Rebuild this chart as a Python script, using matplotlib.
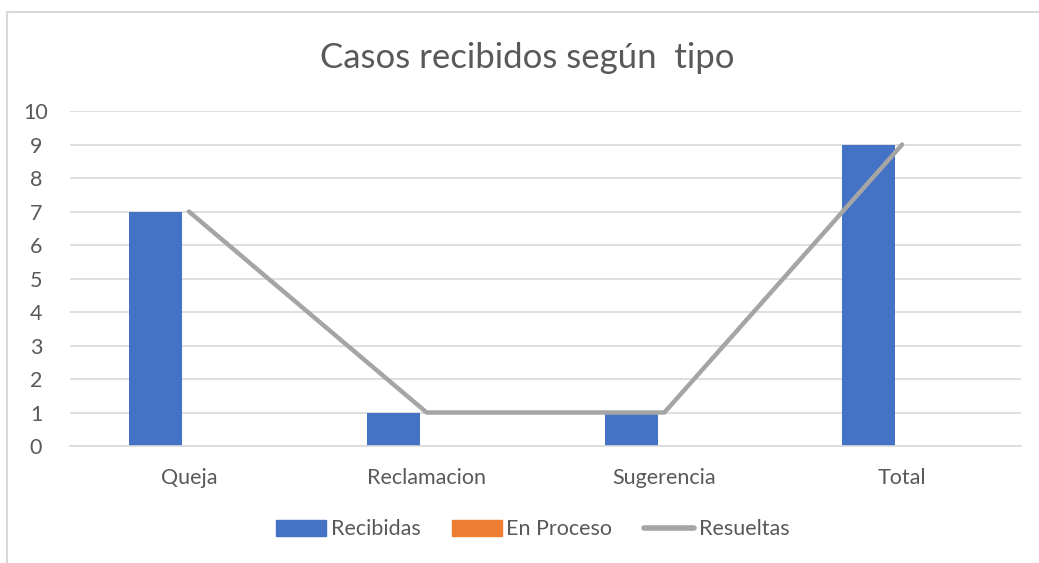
import numpy as np
import matplotlib.pyplot as plt
from matplotlib.patches import Rectangle
from matplotlib.lines import Line2D

plt.rcParams['font.family'] = ['Lato', 'DejaVu Sans']

categorias = ["Queja", "Reclamacion", "Sugerencia", "Total"]
recibidas = [7, 1, 1, 9]
en_proceso = [0, 0, 0, 0]
resueltas = [7, 1, 1, 9]

azul = '#4472c4'
naranja = '#ed7d31'
gris = '#a5a5a5'
texto = '#595959'

fig = plt.figure(figsize=(10.39, 5.63), dpi=100)
# chart area border (left and top only visible in the reference)
fig.add_artist(Line2D([0.0063, 0.0063], [0, 0.979], color='#d9d9d9', lw=1.5))
fig.add_artist(Line2D([0.0063, 1.0], [0.979, 0.979], color='#d9d9d9', lw=1.5))

ax = fig.add_axes([0.0674, 0.2078, 0.9153, 0.595])
x = np.arange(len(categorias))
w = 0.223
ax.bar(x - 0.14, recibidas, width=w, color=azul, label='Recibidas', zorder=2)
ax.bar(x + 0.09, en_proceso, width=w, color=naranja, label='En Proceso', zorder=2)
ax.plot(x, resueltas, color=gris, lw=3.2, label='Resueltas', zorder=3,
        solid_capstyle='round')

ax.set_xlim(-0.5, len(categorias) - 0.5)
ax.set_ylim(0, 10)
ax.set_yticks(range(0, 11))
ax.yaxis.grid(True, color='#d9d9d9', lw=1.2, zorder=0)
ax.set_axisbelow(True)
for s in ['top', 'right', 'left']:
    ax.spines[s].set_visible(False)
ax.spines['bottom'].set_color('#d9d9d9')
ax.spines['bottom'].set_linewidth(1.2)
ax.tick_params(axis='both', length=0, colors=texto, labelsize=15.5)
ax.tick_params(axis='x', pad=16)
ax.tick_params(axis='y', pad=24.5)
for lbl in ax.get_yticklabels():
    lbl.set_horizontalalignment('center')
ax.set_xticks(x)
ax.set_xticklabels(categorias)

fig.text(0.507, 0.897, 'Casos recibidos según  tipo', ha='center', va='center',
         fontsize=25, color=texto)

handles = [Rectangle((0, 0), 1, 1, color=azul),
           Rectangle((0, 0), 1, 1, color=naranja),
           Line2D([0], [0], color=gris, lw=4, solid_capstyle='round')]
fig.legend(handles, ['Recibidas', 'En Proceso', 'Resueltas'], loc='center',
           bbox_to_anchor=(0.5125, 0.06), ncol=3, frameon=False, fontsize=15.5,
           labelcolor=texto, handlelength=2.35, handleheight=0.75,
           handletextpad=0.2, columnspacing=1.45)

fig.savefig('out.png', dpi=100)
